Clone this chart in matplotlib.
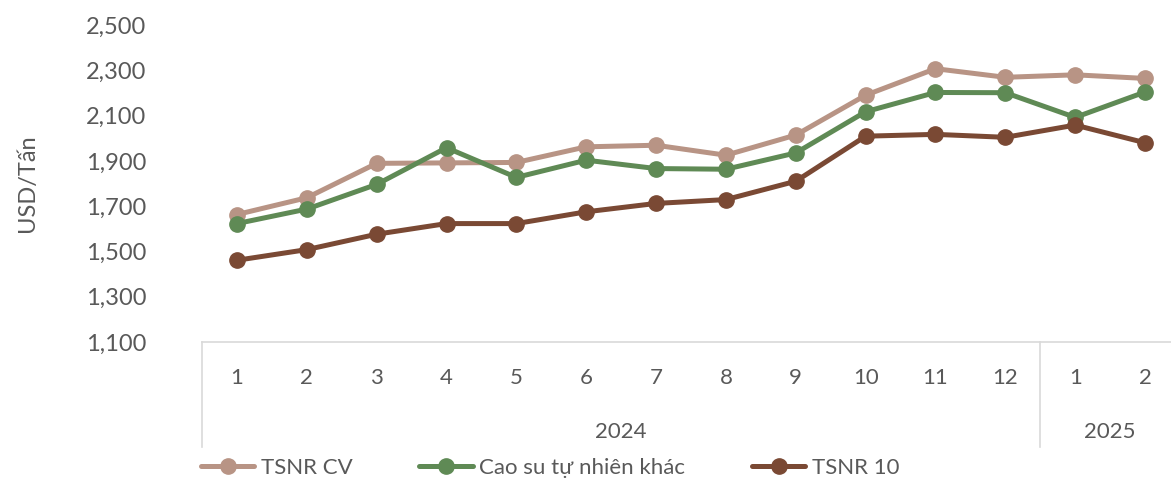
import matplotlib
matplotlib.use("Agg")
import matplotlib.pyplot as plt
import numpy as np

plt.rcParams['font.family'] = ['Lato', 'Open Sans', 'DejaVu Sans']

# data
months = ['1', '2', '3', '4', '5', '6', '7', '8', '9', '10', '11', '12', '1', '2']
years = ['2024', '2025']
year_counts = [12, 2]
tsnr_cv = [1663, 1737, 1889, 1891, 1893, 1962, 1969, 1925, 2014, 2190, 2307, 2269, 2280, 2264]
cao_su_khac = [1623, 1687, 1796, 1958, 1827, 1903, 1866, 1863, 1935, 2117, 2202, 2201, 2092, 2204]
tsnr_10 = [1461, 1508, 1576, 1623, 1623, 1675, 1712, 1729, 1810, 2009, 2017, 2004, 2058, 1980]
series_names = ['TSNR CV', 'Cao su tự nhiên khác', 'TSNR 10']
colors = ['#B89485', '#5F8A55', '#7A4934']
yticks = np.arange(1100, 2501, 200)

fig = plt.figure(figsize=(11.71, 4.82), dpi=100)
ax = fig.add_axes([202 / 1171, 140 / 482, (1180 - 202) / 1171, 317 / 482])

x = np.arange(len(months))
for vals, name, c in zip([tsnr_cv, cao_su_khac, tsnr_10], series_names, colors):
    ax.plot(x, vals, color=c, lw=3.6, marker='o', ms=11, label=name, solid_capstyle='round')

ax.set_xlim(-0.5, len(months) - 0.5)
ax.set_ylim(1100, 2500)
ax.set_yticks(yticks)
ax.set_yticklabels([f'{v:,}' for v in yticks])
ax.set_xticks(x)
ax.set_xticklabels(months)
ax.tick_params(axis='y', length=0, pad=40, labelsize=17, labelcolor='#595959')
ax.tick_params(axis='x', length=0, pad=19, labelsize=16, labelcolor='#595959')

for s in ['top', 'right', 'left']:
    ax.spines[s].set_visible(False)
ax.spines['bottom'].set_color('#D9D9D9')
ax.spines['bottom'].set_linewidth(1.2)

# second level of the category axis
tr = ax.get_xaxis_transform()
start = 0
bounds = [-0.5]
for yr, n in zip(years, year_counts):
    center = start + (n - 1) / 2
    ax.text(center, -0.285, yr, transform=tr, ha='center', va='center',
            fontsize=16, color='#595959')
    start += n
    bounds.append(start - 0.5)
for b in bounds[:-1]:
    ax.plot([b, b], [0, -0.33], transform=tr, color='#D9D9D9', lw=1.2, clip_on=False)

ax.set_ylabel('USD/Tấn', fontsize=17, color='#595959')
ax.yaxis.set_label_coords(-(202 - 38) / 978, 0.5)

fig.legend(loc='center', bbox_to_anchor=(0.47, 14 / 482), ncol=3, frameon=False,
           fontsize=16, labelcolor='#595959', handlelength=2.4, columnspacing=3.0,
           handletextpad=0.3)

fig.savefig('out.png', dpi=100)
